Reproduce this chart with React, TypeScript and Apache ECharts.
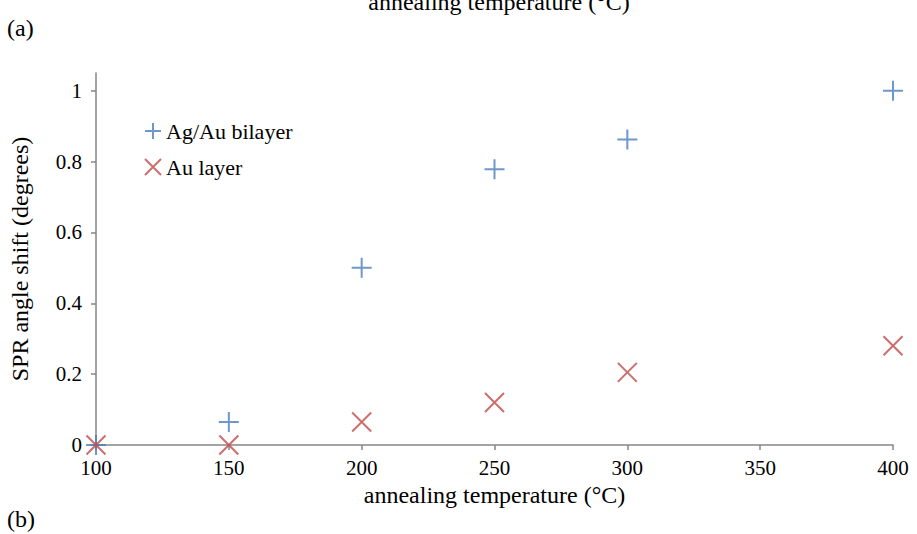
import React, { useEffect, useRef } from "react";
import * as echarts from "echarts";

const temperatures = [100, 150, 200, 250, 300, 400];
const bilayerShift = [0, 0.065, 0.5, 0.778, 0.862, 1.0];
const auLayerShift = [0, 0, 0.065, 0.12, 0.205, 0.28];
const yTickValues = [0, 0.2, 0.4, 0.6, 0.8, 1];
const seriesNames = ["Ag/Au bilayer", "Au layer"];
const xTitle = "annealing temperature (°C)";
const yTitle = "SPR angle shift (degrees)";

const FONT = "Liberation Serif";
const BLUE = "#4a7ebb";
const RED = "#be4b48";
const AXIS = "#868686";

export default function App() {
  const ref = useRef<HTMLDivElement>(null);
  useEffect(() => {
    if (!ref.current) return;
    const chart = echarts.init(ref.current, undefined, { renderer: "svg" });
    const plusPath = "path://M10,0L10,20M0,10L20,10";
    const crossPath = "path://M0,0L20,20M20,0L0,20";
    chart.setOption({
      animation: false,
      backgroundColor: "#fff",
      textStyle: { fontFamily: FONT },
      grid: { left: 91, right: 24, top: 73, bottom: 89 },
      legend: {
        orient: "vertical",
        left: 144,
        top: 120,
        padding: 0,
        itemWidth: 16,
        itemHeight: 16,
        itemGap: 14,
        data: seriesNames,
        textStyle: { fontFamily: FONT, fontSize: 22, color: "#000", lineHeight: 22 },
      },
      xAxis: {
        type: "value",
        min: 100,
        max: 400,
        interval: 50,
        name: xTitle,
        nameLocation: "middle",
        nameGap: 36,
        nameTextStyle: { fontFamily: FONT, fontSize: 24, color: "#000" },
        splitLine: { show: false },
        axisLine: { lineStyle: { color: AXIS, width: 1.5 } },
        axisTick: { show: true, length: 5, lineStyle: { color: AXIS, width: 1.5 } },
        axisLabel: { fontFamily: FONT, fontSize: 21, color: "#000", margin: 12 },
      },
      yAxis: {
        type: "value",
        min: 0,
        max: 1.05,
        name: yTitle,
        nameLocation: "middle",
        nameGap: 64,
        nameTextStyle: { fontFamily: FONT, fontSize: 24, color: "#000" },
        splitLine: { show: false },
        axisLine: { show: true, lineStyle: { color: AXIS, width: 1.5 } },
        axisTick: {
          show: true,
          length: 5,
          customValues: yTickValues,
          lineStyle: { color: AXIS, width: 1.5 },
        },
        axisLabel: {
          fontFamily: FONT,
          fontSize: 21,
          color: "#000",
          margin: 14,
          customValues: yTickValues,
        },
      },
      graphic: [
        {
          type: "text",
          x: 499,
          y: 14,
          style: {
            text: xTitle,
            fontFamily: FONT,
            fontSize: 24,
            fill: "#000",
            align: "center",
            verticalAlign: "bottom",
          },
        },
        {
          type: "text",
          x: 7,
          y: 28,
          style: {
            text: "(a)",
            fontFamily: FONT,
            fontSize: 24,
            fill: "#000",
            verticalAlign: "middle",
          },
        },
        {
          type: "text",
          x: 7,
          y: 519,
          style: {
            text: "(b)",
            fontFamily: FONT,
            fontSize: 24,
            fill: "#000",
            verticalAlign: "middle",
          },
        },
      ],
      series: [
        {
          name: seriesNames[0],
          type: "scatter",
          symbol: plusPath,
          symbolSize: 20,
          itemStyle: { color: BLUE, borderColor: BLUE, borderWidth: 2 },
          data: temperatures.map((t, i) => [t, bilayerShift[i]]),
          z: 3,
        },
        {
          name: seriesNames[1],
          type: "scatter",
          symbol: crossPath,
          symbolSize: 19,
          itemStyle: { color: RED, borderColor: RED, borderWidth: 2 },
          data: temperatures.map((t, i) => [t, auLayerShift[i]]),
          z: 4,
        },
      ],
    });
    return () => chart.dispose();
  }, []);
  return <div ref={ref} style={{ width: 917, height: 534, position: "absolute", left: 0, top: 0 }} />;
}
